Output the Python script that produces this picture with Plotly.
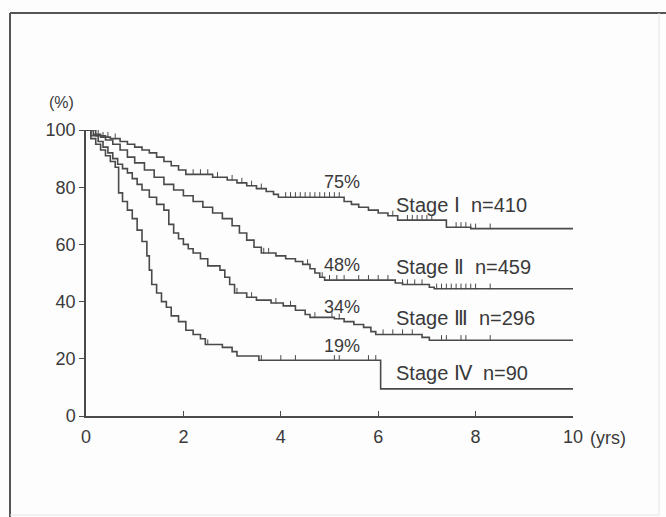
import numpy as np
import plotly.graph_objects as go

# ---- data ----
stage_names = ["Stage Ⅰ  n=410", "Stage Ⅱ  n=459", "Stage Ⅲ  n=296", "Stage Ⅳ  n=90"]
pct_labels = ["75%", "48%", "34%", "19%"]

t1 = [0, 0.15, 0.3, 0.5, 0.7, 0.85, 1.0, 1.15, 1.3, 1.45, 1.6, 1.75, 1.9, 2.05, 2.6, 2.9, 3.1, 3.3, 3.5, 3.7, 3.85, 3.95, 5.3, 5.45, 5.6, 5.8, 6.0, 6.2, 6.4, 7.4, 7.9, 10]
s1 = [100, 98.5, 97.5, 97, 96, 95, 94, 93, 92, 90.5, 89, 87.5, 86, 84.5, 83.5, 82.5, 81.5, 80.5, 79.5, 78.5, 77.5, 76.5, 75, 74, 73, 72, 71, 70, 68.5, 66, 65.5, 65.5]

t2 = [0, 0.2, 0.4, 0.55, 0.7, 0.85, 1.0, 1.2, 1.4, 1.6, 1.8, 2.0, 2.2, 2.4, 2.6, 2.8, 3.0, 3.15, 3.3, 3.45, 3.6, 3.9, 4.1, 4.3, 4.45, 4.6, 4.7, 4.8, 4.9, 6.35, 6.5, 7.05, 7.15, 10]
s2 = [100, 98, 96.5, 95, 93, 90.5, 88.5, 86, 83.5, 81, 79, 77, 75, 73, 71, 69, 66.5, 64, 61.5, 59, 57, 56, 55, 54, 53, 51.5, 50, 48.5, 47.5, 46.5, 46, 45, 44.5, 44.5]

t3 = [0, 0.1, 0.25, 0.35, 0.45, 0.55, 0.65, 0.75, 0.85, 0.95, 1.05, 1.15, 1.3, 1.45, 1.6, 1.7, 1.8, 1.9, 2.0, 2.1, 2.2, 2.35, 2.5, 2.75, 2.85, 2.95, 3.05, 3.3, 3.5, 3.8, 4.05, 4.3, 4.5, 4.6, 5.1, 5.3, 5.5, 5.7, 5.85, 5.95, 6.9, 7.05, 10]
s3 = [100, 98, 96, 94, 92, 90, 88, 86.5, 85, 83, 81, 79, 76.5, 74, 72, 67, 64, 62, 60, 58.5, 57, 55, 52.5, 51, 48.5, 46, 43, 41.5, 40.5, 39.5, 38.5, 37, 35.5, 34.5, 34, 33, 32, 31, 29.5, 28.5, 27.5, 26.5, 26.5]

t4 = [0, 0.1, 0.2, 0.3, 0.4, 0.5, 0.6, 0.67, 0.75, 0.85, 0.95, 1.05, 1.15, 1.25, 1.3, 1.35, 1.45, 1.55, 1.65, 1.75, 1.9, 2.05, 2.2, 2.35, 2.45, 2.8, 3.0, 3.1, 3.55, 6.05, 10]
s4 = [100, 97, 95, 93, 91, 89, 87, 78, 75, 72, 69, 65, 61, 56, 51, 46, 43, 40, 38, 35, 33, 30, 28.5, 27, 25, 24, 22.5, 21, 19.5, 9.5, 9.5]

# censored observation times
c1 = [0.25, 0.35, 0.45, 0.6, 2.2, 2.35, 2.5, 2.7, 3.0, 3.2, 3.4, 3.6, 4.1, 4.2, 4.3, 4.4, 4.5, 4.6, 4.7, 4.8, 4.9, 5.0, 5.1, 5.2, 6.3, 6.6, 6.7, 6.8, 6.9, 7.0, 7.1, 7.6, 7.7, 7.8, 7.9, 8.0, 8.3]
c2 = [3.65, 3.75, 4.55, 4.85, 5.0, 5.15, 5.3, 5.6, 5.8, 6.0, 6.2, 6.5, 6.6, 6.75, 6.9, 7.2, 7.3, 7.4, 7.5, 7.6, 7.7, 7.8, 7.9, 8.0, 8.3]
c3 = [3.1, 3.4, 3.9, 4.2, 4.7, 5.05, 5.2, 6.1, 6.3, 6.5, 6.7, 7.3, 7.4, 7.7, 7.8, 8.3]
c4 = [2.5, 3.6, 4.0, 4.3, 5.1, 5.2, 5.8, 5.95]

times = [t1, t2, t3, t4]
surv = [s1, s2, s3, s4]
cens = [c1, c2, c3, c4]

ytick_vals = [0, 20, 40, 60, 80, 100]
xtick_vals = [0, 2, 4, 6, 8, 10]

LINE = "#4a4a4a"
TXT = "#3a3a3a"
FONT = "Liberation Sans, Arial, sans-serif"

fig = go.Figure()
for t, s, c in zip(times, surv, cens):
    fig.add_trace(go.Scatter(x=t, y=s, mode="lines", line=dict(shape="hv", color=LINE, width=1.6),
                             showlegend=False, hoverinfo="skip"))
    ta = np.array(t); sa = np.array(s)
    idx = np.searchsorted(ta, np.array(c), side="right") - 1
    cy = sa[idx] + 0.8
    fig.add_trace(go.Scatter(x=c, y=cy, mode="markers",
                             marker=dict(symbol="line-ns", size=4, line=dict(color=LINE, width=1)),
                             showlegend=False, hoverinfo="skip"))

# pixel -> paper helpers (plot area: x 86..573, y 130..416)
def paper_x(px):
    return (px - 86) / 487
def paper_y(px):
    return (416 - px) / 286

label_y = [205, 267, 318, 373]
pct_y = [182, 265, 307, 346]

for name, ypx in zip(stage_names, label_y):
    fig.add_annotation(xref="paper", yref="paper", x=paper_x(394), y=paper_y(ypx), text=name,
                       showarrow=False, xanchor="left", yanchor="middle",
                       font=dict(family=FONT, size=20, color=TXT))
for lab, ypx in zip(pct_labels, pct_y):
    fig.add_annotation(xref="paper", yref="paper", x=paper_x(342), y=paper_y(ypx), text=lab,
                       showarrow=False, xanchor="center", yanchor="middle",
                       font=dict(family=FONT, size=18, color=TXT))

fig.add_annotation(xref="paper", yref="paper", x=paper_x(61), y=paper_y(102), text="(%)",
                   showarrow=False, xanchor="center", yanchor="middle",
                   font=dict(family=FONT, size=16, color=TXT))
fig.add_annotation(xref="paper", yref="paper", x=paper_x(588), y=paper_y(438), text="(yrs)",
                   showarrow=False, xanchor="left", yanchor="middle",
                   font=dict(family=FONT, size=18, color=TXT))

# frame
fig.add_shape(type="line", xref="paper", yref="paper", x0=paper_x(10), x1=paper_x(10),
              y0=paper_y(13), y1=paper_y(517), line=dict(color="#555", width=2))
fig.add_shape(type="line", xref="paper", yref="paper", x0=paper_x(10), x1=paper_x(666),
              y0=paper_y(13), y1=paper_y(13), line=dict(color="#555", width=2))
fig.add_shape(type="line", xref="paper", yref="paper", x0=paper_x(659), x1=paper_x(659),
              y0=paper_y(13), y1=paper_y(515), line=dict(color="#e4e4e4", width=1))
fig.add_shape(type="line", xref="paper", yref="paper", x0=paper_x(10), x1=paper_x(659),
              y0=paper_y(515), y1=paper_y(515), line=dict(color="#e4e4e4", width=1))

fig.update_layout(
    width=666, height=517,
    margin=dict(l=86, r=93, t=130, b=101),
    paper_bgcolor="#fdfdfd", plot_bgcolor="rgba(0,0,0,0)",
    font=dict(family=FONT, color=TXT),
)
fig.update_xaxes(range=[0, 10], tickvals=xtick_vals, ticks="inside", ticklen=5, tickcolor=LINE,
                 showline=True, linecolor=LINE, linewidth=1.5, showgrid=False, zeroline=False,
                 ticklabelstandoff=4, tickfont=dict(size=18, color=TXT))
fig.update_yaxes(range=[0, 100], tickvals=ytick_vals, ticks="outside", ticklen=5, tickcolor=LINE,
                 showline=True, linecolor=LINE, linewidth=1.5, showgrid=False, zeroline=False,
                 tickfont=dict(size=18, color=TXT))

fig.write_html("out.html", config={"displayModeBar": False},
               post_script="document.body.style.margin='0';document.body.style.overflow='hidden';")
